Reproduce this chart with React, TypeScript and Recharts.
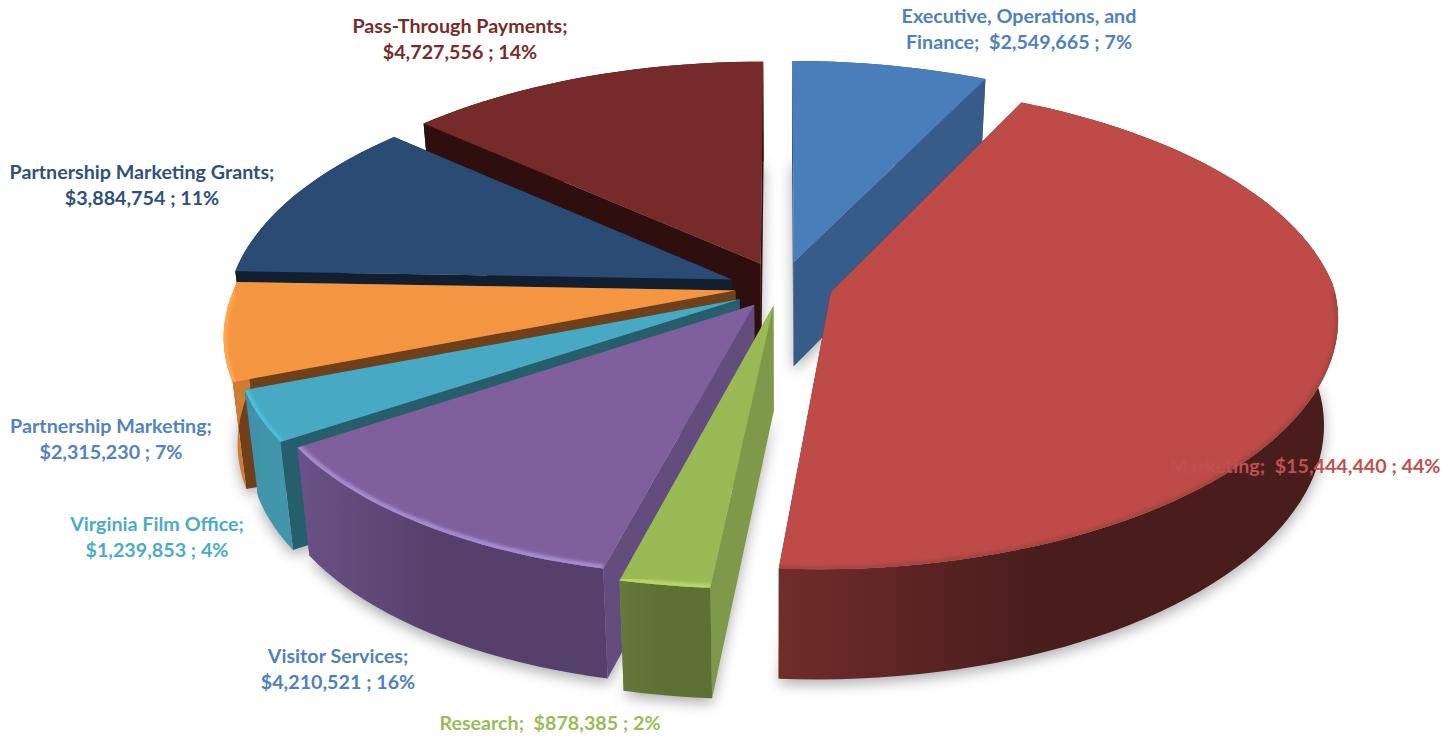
import { PieChart, Pie } from 'recharts'

const NAMES = [
  'Executive, Operations, and Finance',
  'Pass-Through Payments',
  'Partnership Marketing Grants',
  'Partnership Marketing',
  'Virginia Film Office',
  'Visitor Services',
  'Research',
  'Marketing',
]
const VALUES = [2549665, 4727556, 3884754, 2315230, 1239853, 4210521, 878385, 15444440]
const LABELS = [
  ['Executive, Operations, and', 'Finance;  $2,549,665 ; 7%'],
  ['Pass-Through Payments;', '$4,727,556 ; 14%'],
  ['Partnership Marketing Grants;', '$3,884,754 ; 11%'],
  ['Partnership Marketing;', '$2,315,230 ; 7%'],
  ['Virginia Film Office;', '$1,239,853 ; 4%'],
  ['Visitor Services;', '$4,210,521 ; 16%'],
  ['Research;  $878,385 ; 2%'],
  ['Marketing;  $15,444,440 ; 44%'],
]

const data = NAMES.map((name, i) => ({ name, value: VALUES[i], index: i }))
const total = VALUES.reduce((s, v) => s + v, 0)

// slices go counter-clockwise from the trailing edge of the first one,
// so later slices paint over earlier ones in the right order
const START_ANGLE = 90 - (360 * VALUES[0]) / total

const WIDTH = 1453
const HEIGHT = 740
const CX = 775
const CY = 285
const RADIUS = 502

// tilt and perspective of the disc
const Y_RATIO = 0.47
const PERSPECTIVE = 0.14
const DEPTH = 105
const BOTTOM_SHRINK = 0.975
const SKEW_FRONT = 23

const SLICE_STYLES = [
  { top: '#4a7ebb', side: '#375c8a', wall: ['#375c8a', '#375c8a'], rim: null, rimWidth: 0, explode: 0.115, scale: 1.0, nudge: [6, 3] },
  { top: '#772a2a', side: '#2e0f0e', wall: ['#2e0f0e', '#2e0f0e'], rim: null, rimWidth: 0, explode: 0.1, scale: 1, nudge: [6, 0] },
  { top: '#2a4b73', side: '#111f30', wall: ['#111f30', '#111f30'], rim: null, rimWidth: 0, explode: 0.086, scale: 1, nudge: [-3, 2] },
  { top: '#f49542', side: '#6f401a', wall: ['#d88338', '#cf7d35'], rim: '#ffa850', rimWidth: 7, explode: 0.085, scale: 0.998, nudge: [3, 2] },
  { top: '#48a9c4', side: '#265e6c', wall: ['#3f8ea8', '#4296ab'], rim: '#4fbfe0', rimWidth: 7, explode: 0.084, scale: 0.98, nudge: [3, 5] },
  { top: '#7f609c', side: '#634d7e', wall: ['#6b5287', '#55406b'], rim: '#a58bd2', rimWidth: 8, explode: 0.075, scale: 0.975, nudge: [2, 5] },
  { top: '#98b954', side: '#7e994a', wall: ['#66783a', '#5f7035'], rim: '#b7d66a', rimWidth: 8, explode: 0.1, scale: 1, nudge: [8, -3] },
  { top: '#be4b48', side: '#5d2120', wall: ['#702d2a', '#4a1d1d'], rim: '#a84441', rimWidth: 7, explode: 0.12, scale: 1, nudge: [-2, 0] },
]

const LABEL_STYLES = [
  { x: 1019, y: 23, color: '#4f81bd' },
  { x: 460, y: 33, color: '#772c2a' },
  { x: 142, y: 179, color: '#2f5179' },
  { x: 111, y: 433, color: '#5482bf' },
  { x: 157, y: 531, color: '#4bacc6' },
  { x: 338, y: 663, color: '#4f81bd' },
  { x: 550, y: 730, color: '#9bbb59' },
  { x: 1305, y: 473, color: '#c0504d' },
]

const RAD = Math.PI / 180

// disc coordinates (u right, v away from the viewer) to screen
function project(u: number, v: number, cx: number, cy: number, r: number, bottom = false) {
  const s = 1 / (1 + PERSPECTIVE * v)
  const x = r * u * s + (v < 0 ? SKEW_FRONT * v : 0)
  const y = -r * Y_RATIO * v * s
  if (!bottom) return [cx + x, cy + y]
  return [cx + x * BOTTOM_SHRINK, cy + y + DEPTH + 5 * -v]
}

function toPath(points: number[][], close = true) {
  return points.map((p, i) => `${i ? 'L' : 'M'}${p[0].toFixed(1)},${p[1].toFixed(1)}`).join(' ') + (close ? ' Z' : '')
}

function sliceGeometry(props: any) {
  const { cx, cy, outerRadius, startAngle, endAngle, index } = props
  const style = SLICE_STYLES[index]
  const ncx = cx + style.nudge[0]
  const ncy = cy + style.nudge[1]
  const mid = ((startAngle + endAngle) / 2) * RAD
  const ou = style.explode * Math.cos(mid)
  const ov = style.explode * Math.sin(mid)
  const steps = Math.max(2, Math.ceil(Math.abs(endAngle - startAngle) / 2))
  const rim = (bottom: boolean) => {
    const pts: number[][] = []
    for (let i = 0; i <= steps; i++) {
      const a = (startAngle + ((endAngle - startAngle) * i) / steps) * RAD
      pts.push(project(ou + style.scale * Math.cos(a), ov + style.scale * Math.sin(a), ncx, ncy, outerRadius, bottom))
    }
    return pts
  }
  return {
    style,
    tipTop: project(ou, ov, ncx, ncy, outerRadius),
    tipBottom: project(ou, ov, ncx, ncy, outerRadius, true),
    rimTop: rim(false),
    rimBottom: rim(true),
  }
}

// soft shadow under the bottom face, painted before every slice
function SliceShadow(props: any) {
  const { tipBottom, rimBottom } = sliceGeometry(props)
  return (
    <path
      d={toPath([tipBottom, ...rimBottom])}
      fill="#000"
      fillOpacity={0.32}
      filter="url(#pieShadow)"
      transform="translate(0,5)"
    />
  )
}

function Slice3D(props: any) {
  const { style, tipTop, tipBottom, rimTop, rimBottom } = sliceGeometry(props)
  const { index } = props
  const gradId = `wall${index}`
  const last = rimTop.length - 1
  // the rim highlight only shows on the part of the arc facing the viewer
  const frontRim = rimTop.filter((_, i) => {
    const a = (props.startAngle + ((props.endAngle - props.startAngle) * i) / last) * RAD
    return Math.sin(a) < 0.03
  })
  return (
    <g>
      <defs>
        <linearGradient id={gradId} x1="0" y1="0" x2="1" y2="0">
          <stop offset="0" stopColor={style.wall[0]} />
          <stop offset="0.45" stopColor={style.wall[1]} />
          <stop offset="1" stopColor={style.wall[1]} />
        </linearGradient>
        <clipPath id={`top${index}`}>
          <path d={toPath([tipTop, ...rimTop])} />
        </clipPath>
      </defs>
      <path d={toPath([tipTop, rimTop[0], rimBottom[0], tipBottom])} fill={style.side} />
      <path d={toPath([tipTop, rimTop[last], rimBottom[last], tipBottom])} fill={style.side} />
      <path d={toPath([...rimTop, ...[...rimBottom].reverse()])} fill={`url(#${gradId})`} />
      <path d={toPath([tipTop, ...rimTop])} fill={style.top} />
      {style.rim && frontRim.length > 1 && (
        <g clipPath={`url(#top${index})`}>
          <path
            d={toPath(frontRim, false)}
            fill="none"
            stroke={style.rim}
            strokeWidth={style.rimWidth}
            filter="url(#rimBlur)"
          />
        </g>
      )}
    </g>
  )
}

function renderLabel(props: any) {
  const i = props.index
  const { x, y, color } = LABEL_STYLES[i]
  return (
    <text
      key={i}
      x={x}
      y={y}
      textAnchor="middle"
      fill={color}
      fontFamily="Lato"
      fontWeight={700}
      fontSize={19.7}
      style={{ whiteSpace: 'pre' }}
    >
      {LABELS[i].map((line, n) => (
        <tspan key={n} x={x} dy={n ? 26 : 0}>{line}</tspan>
      ))}
    </text>
  )
}

export default function App() {
  return (
    <div style={{ position: 'absolute', left: 0, top: 0, width: WIDTH, height: HEIGHT, background: '#fff' }}>
      <PieChart width={WIDTH} height={HEIGHT} margin={{ top: 0, right: 0, bottom: 0, left: 0 }}>
        <defs>
          <filter id="pieShadow" x="-20%" y="-20%" width="140%" height="140%">
            <feGaussianBlur stdDeviation="7" />
          </filter>
          <filter id="rimBlur" x="-10%" y="-10%" width="120%" height="120%">
            <feGaussianBlur stdDeviation="1.4" />
          </filter>
        </defs>
        <Pie
          data={data}
          dataKey="value"
          nameKey="name"
          cx={CX}
          cy={CY}
          outerRadius={RADIUS}
          startAngle={START_ANGLE}
          endAngle={START_ANGLE + 360}
          shape={SliceShadow}
          label={false}
          labelLine={false}
          isAnimationActive={false}
        />
        <Pie
          data={data}
          dataKey="value"
          nameKey="name"
          cx={CX}
          cy={CY}
          outerRadius={RADIUS}
          startAngle={START_ANGLE}
          endAngle={START_ANGLE + 360}
          shape={Slice3D}
          label={renderLabel}
          labelLine={false}
          isAnimationActive={false}
        />
      </PieChart>
    </div>
  )
}
